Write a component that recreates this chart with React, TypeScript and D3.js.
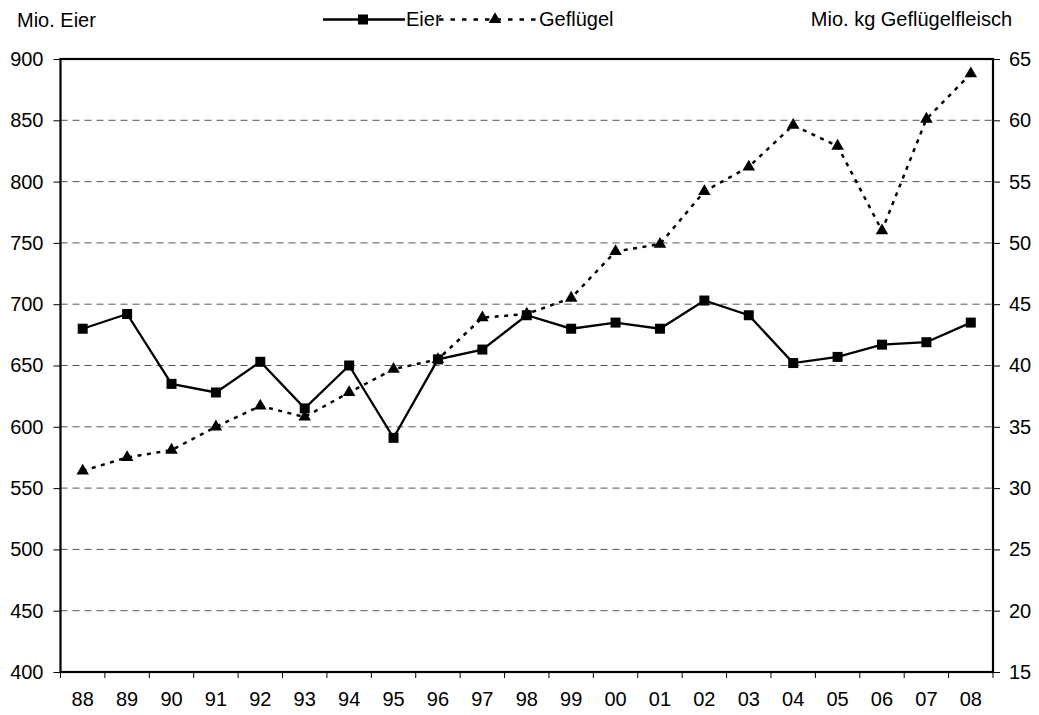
import React, { useRef, useEffect } from "react";
import * as d3 from "d3";

// data
const years = ["88", "89", "90", "91", "92", "93", "94", "95", "96", "97", "98", "99", "00", "01", "02", "03", "04", "05", "06", "07", "08"];
const eier = [680, 692, 635, 628, 653, 615, 650, 591, 655, 663, 691, 680, 685, 680, 703, 691, 652, 657, 667, 669, 685];
const gefluegel = [31.4, 32.5, 33.1, 35.0, 36.7, 35.8, 37.8, 39.7, 40.5, 43.9, 44.2, 45.5, 49.3, 49.9, 54.2, 56.2, 59.6, 57.9, 51.0, 60.1, 63.8];
const leftTicks = [400, 450, 500, 550, 600, 650, 700, 750, 800, 850, 900];
const rightTicks = [15, 20, 25, 30, 35, 40, 45, 50, 55, 60, 65];

const W = 1039;
const H = 715;
const FONT = "'Liberation Sans', Arial, sans-serif";
const FS = "20px";

const App = () => {
    const svgRef = useRef<SVGSVGElement>(null);

    useEffect(() => {
        const svg = d3.select(svgRef.current);
        svg.selectAll("*").remove();

        const margin = { top: 59, right: 46, bottom: 43, left: 60.5 };
        const x0 = margin.left, x1 = W - margin.right;
        const y0 = H - margin.bottom, y1 = margin.top;

        const x = d3.scaleBand().domain(years).range([x0, x1]);
        const yL = d3.scaleLinear().domain([400, 900]).range([y0, y1]);
        const yR = d3.scaleLinear().domain([15, 65]).range([y0, y1]);
        const cx = (d: string) => (x(d) as number) + x.bandwidth() / 2;

        svg.append("rect").attr("width", W).attr("height", H).attr("fill", "#fff");

        // gridlines
        svg.append("g")
            .selectAll("line")
            .data(leftTicks.slice(1, -1))
            .join("line")
            .attr("x1", x0).attr("x2", x1)
            .attr("y1", d => yL(d)).attr("y2", d => yL(d))
            .attr("stroke", "#555")
            .attr("stroke-width", 1)
            .attr("stroke-dasharray", "7,5");

        // axes
        const axL = svg.append("g")
            .attr("transform", `translate(${x0},0)`)
            .call(d3.axisLeft(yL).tickValues(leftTicks).tickSize(7).tickPadding(10));
        const axR = svg.append("g")
            .attr("transform", `translate(${x1},0)`)
            .call(d3.axisRight(yR).tickValues(rightTicks).tickSize(7).tickPadding(9));
        const axB = svg.append("g")
            .attr("transform", `translate(0,${y0})`)
            .call(d3.axisBottom(x).tickSize(0).tickPadding(20));
        [axL, axR, axB].forEach(a => {
            a.select(".domain").remove();
            a.selectAll("text").attr("fill", "#000").style("font-family", FONT).style("font-size", FS);
            a.selectAll("line").attr("stroke", "#000");
        });

        // x ticks at category borders
        svg.append("g")
            .selectAll("line")
            .data(years.map(d => x(d) as number).concat([x1]))
            .join("line")
            .attr("x1", d => d).attr("x2", d => d)
            .attr("y1", y0).attr("y2", y0 + 6)
            .attr("stroke", "#000");

        // plot border
        svg.append("rect")
            .attr("x", x0).attr("y", y1)
            .attr("width", x1 - x0).attr("height", y0 - y1)
            .attr("fill", "none")
            .attr("stroke", "#000")
            .attr("stroke-width", 2.2);

        // Geflügel line
        const lineR = d3.line<number>().x((d, i) => cx(years[i])).y(d => yR(d));
        svg.append("path")
            .attr("d", lineR(gefluegel))
            .attr("fill", "none")
            .attr("stroke", "#000")
            .attr("stroke-width", 2.5)
            .attr("stroke-dasharray", "4,5.5");

        const tri = d3.symbol().type(d3.symbolTriangle).size(68);
        svg.append("g")
            .selectAll("path")
            .data(gefluegel)
            .join("path")
            .attr("d", tri)
            .attr("transform", (d, i) => `translate(${cx(years[i])},${yR(d)})`)
            .attr("fill", "#000");

        // Eier line
        const lineL = d3.line<number>().x((d, i) => cx(years[i])).y(d => yL(d));
        svg.append("path")
            .attr("d", lineL(eier))
            .attr("fill", "none")
            .attr("stroke", "#000")
            .attr("stroke-width", 2.3);

        svg.append("g")
            .selectAll("rect")
            .data(eier)
            .join("rect")
            .attr("x", (d, i) => cx(years[i]) - 5)
            .attr("y", d => yL(d) - 5)
            .attr("width", 10).attr("height", 10)
            .attr("fill", "#000");

        // axis titles
        const txt = (tx: number, ty: number, s: string, anchor: string) =>
            svg.append("text")
                .attr("x", tx).attr("y", ty)
                .attr("text-anchor", anchor)
                .style("font-family", FONT)
                .style("font-size", FS)
                .attr("fill", "#000")
                .text(s);
        txt(17, 27, "Mio. Eier", "start");
        txt(1012, 26, "Mio. kg Geflügelfleisch", "end");

        // legend
        const ly = 19.5;
        svg.append("line").attr("x1", 323).attr("x2", 405).attr("y1", ly).attr("y2", ly)
            .attr("stroke", "#000").attr("stroke-width", 2.3);
        svg.append("rect").attr("x", 358).attr("y", ly - 5).attr("width", 10).attr("height", 10).attr("fill", "#000");
        txt(406, 26, "Eier", "start");
        svg.append("line").attr("x1", 439).attr("x2", 536).attr("y1", ly).attr("y2", ly)
            .attr("stroke", "#000").attr("stroke-width", 2.5).attr("stroke-dasharray", "4.5,7");
        svg.append("path").attr("d", tri).attr("transform", `translate(${495},${ly})`).attr("fill", "#000");
        txt(539, 26, "Geflügel", "start");
    }, []);

    return (
        <svg ref={svgRef} width={W} height={H} style={{ position: "absolute", left: 0, top: 0 }}></svg>
    );
};

export default App;
